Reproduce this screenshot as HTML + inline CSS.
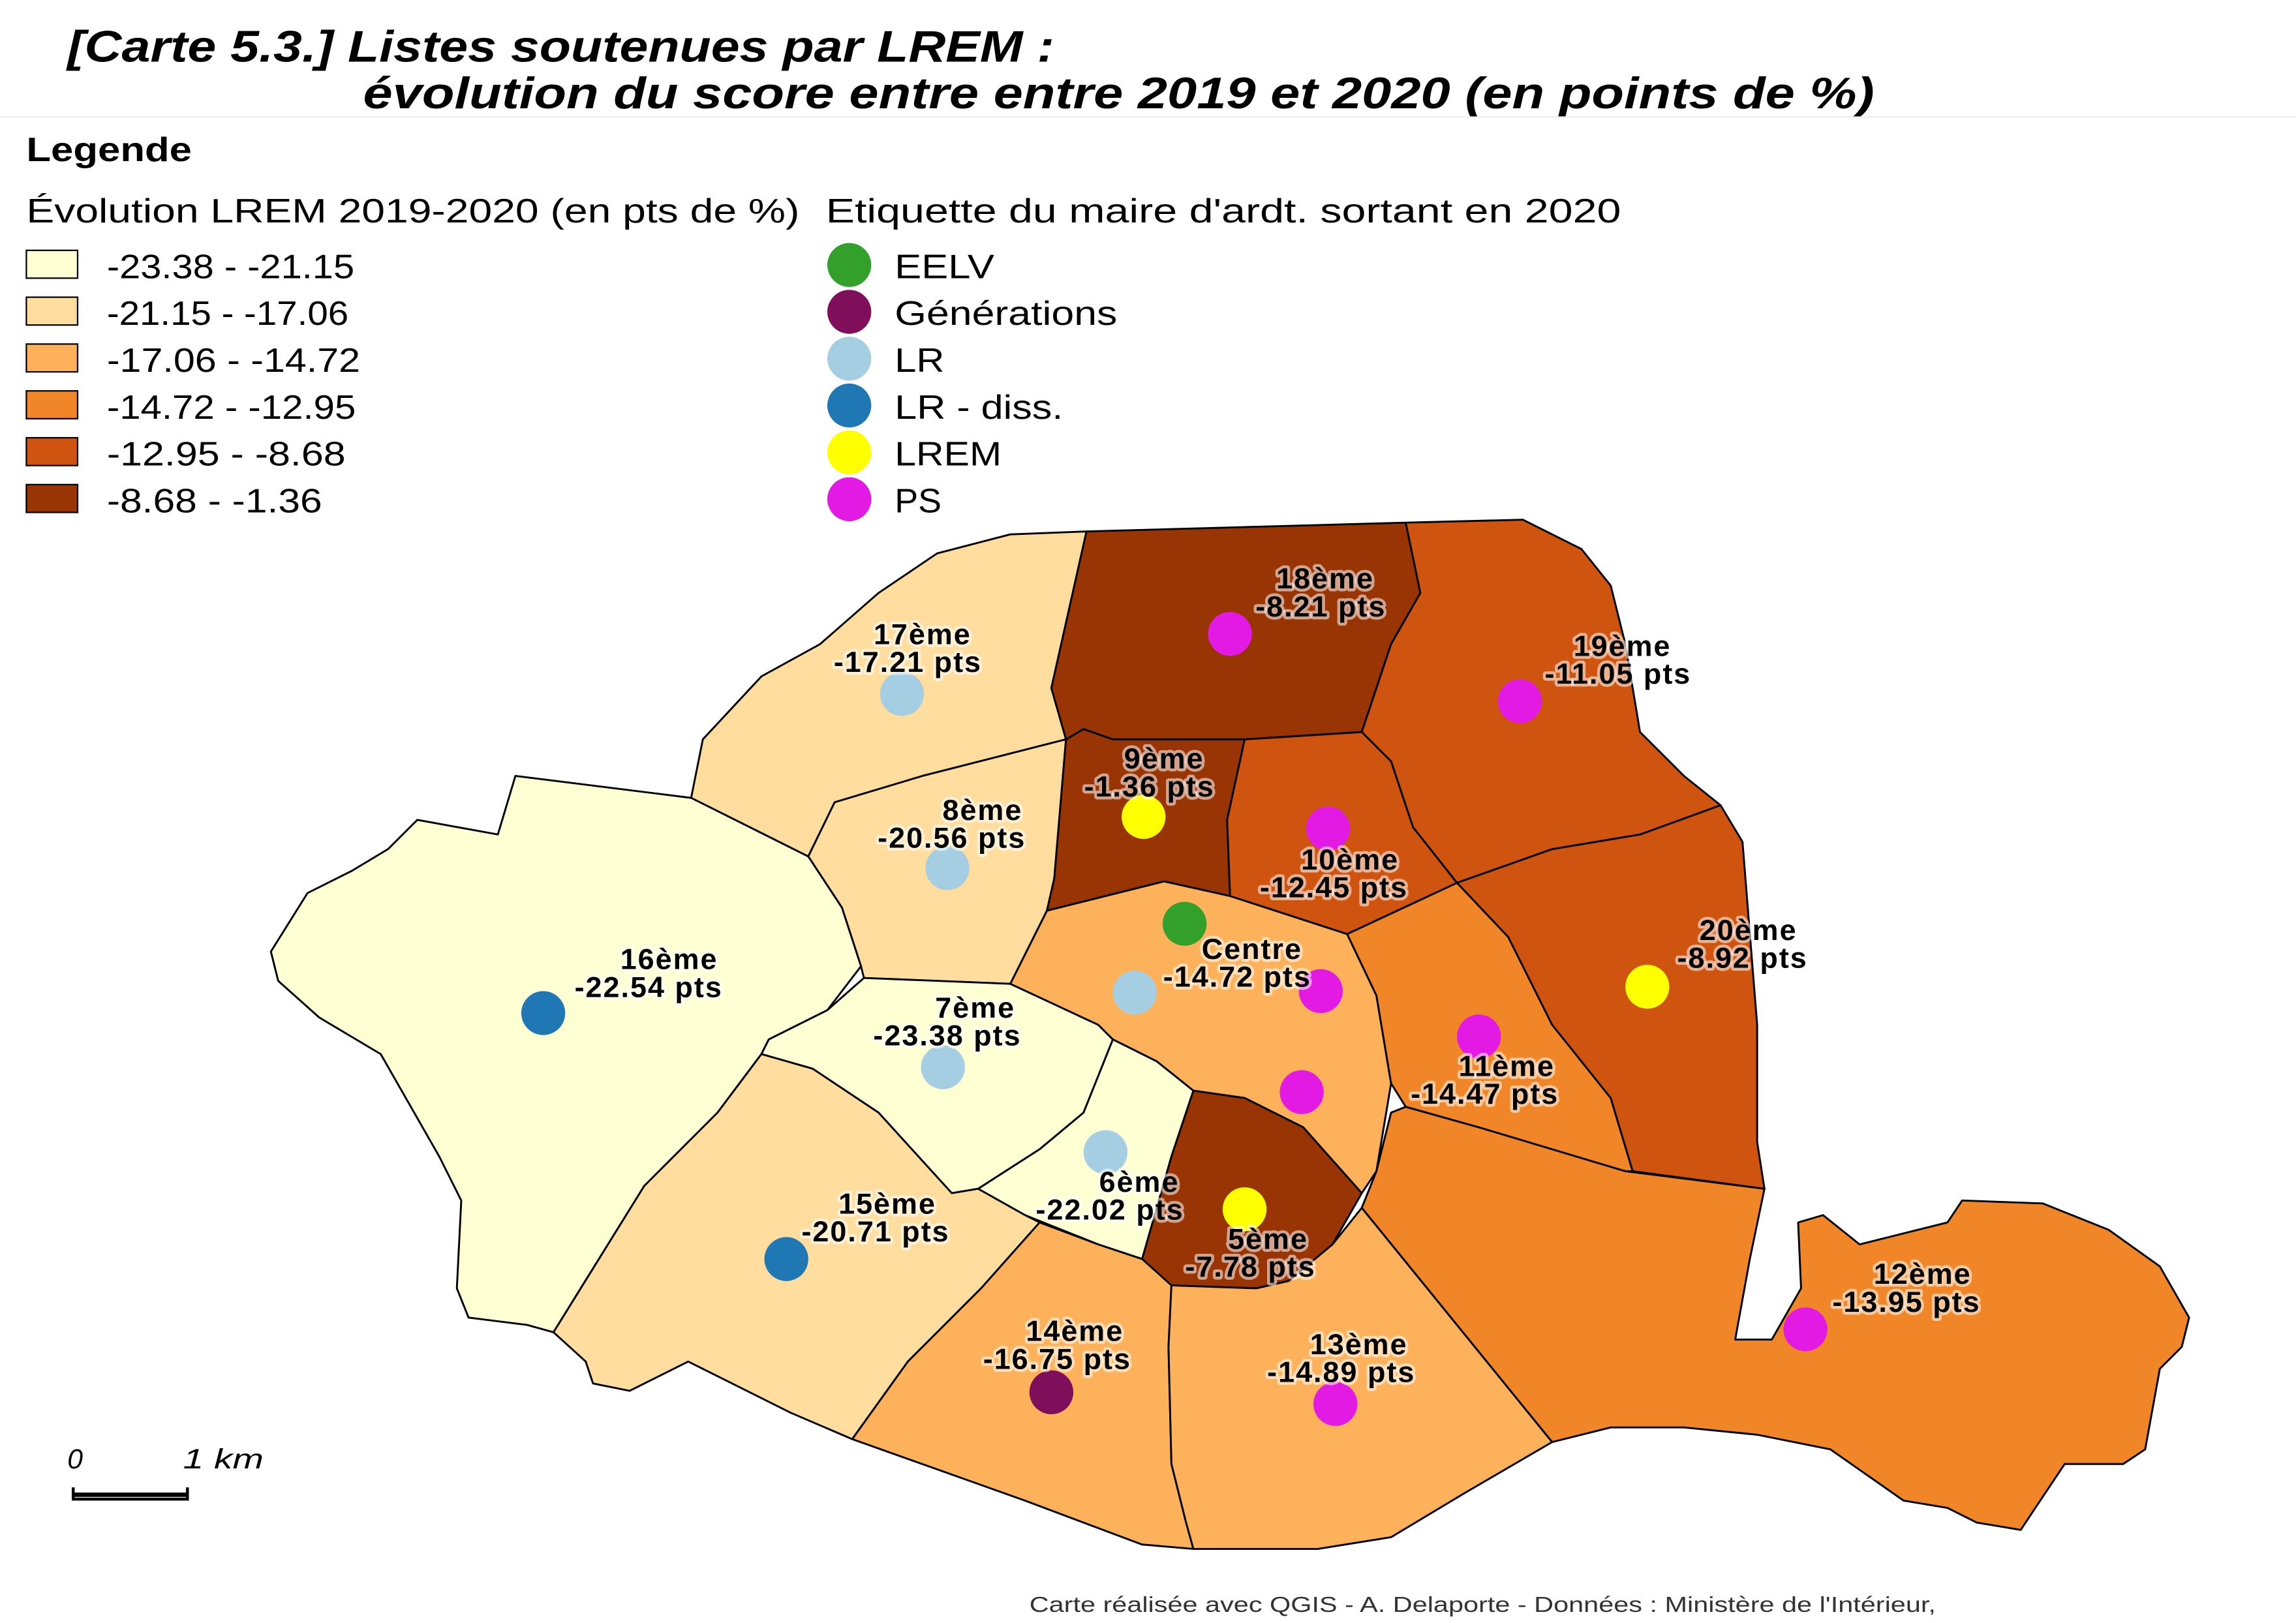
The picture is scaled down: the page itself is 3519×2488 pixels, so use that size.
<!DOCTYPE html>
<html><head><meta charset="utf-8"><style>
html,body{margin:0;padding:0;background:#fff;}
svg{display:block;}
.t{font-family:"Liberation Sans",sans-serif;}
.lab{font-family:"Liberation Sans",sans-serif;font-weight:bold;font-size:20px;letter-spacing:0.9px;fill:#000;stroke:rgba(255,255,255,0.55);stroke-width:4px;paint-order:stroke;stroke-linejoin:round;text-anchor:middle;}
.p{stroke:#000;stroke-width:1.3;stroke-linejoin:round;}
</style></head><body>
<svg width="3519" height="2488" viewBox="0 0 1568 1108.6" xmlns="http://www.w3.org/2000/svg">
<rect width="1568" height="1109" fill="#fff"/>
<text class="t" x="46" y="42" font-size="30" font-weight="bold" font-style="italic" textLength="674" lengthAdjust="spacingAndGlyphs">[Carte 5.3.] Listes soutenues par LREM :</text>
<text class="t" x="248" y="74" font-size="30" font-weight="bold" font-style="italic" textLength="1032" lengthAdjust="spacingAndGlyphs">évolution du score entre entre 2019 et 2020 (en points de %)</text>
<line x1="0" y1="80" x2="1568" y2="80" stroke="#eee" stroke-width="1"/>
<text class="t" x="18" y="110" font-size="23" font-weight="bold" textLength="113" lengthAdjust="spacingAndGlyphs">Legende</text>
<text class="t" x="18" y="152" font-size="23" textLength="528" lengthAdjust="spacingAndGlyphs">Évolution LREM 2019-2020 (en pts de %)</text>
<g class="t" font-size="23">
<rect x="18" y="171" width="35" height="19" fill="#ffffd4" stroke="#000"/><text x="73" y="190" textLength="169" lengthAdjust="spacingAndGlyphs">-23.38 - -21.15</text>
<rect x="18" y="203" width="35" height="19" fill="#fedd9f" stroke="#000"/><text x="73" y="222" textLength="165" lengthAdjust="spacingAndGlyphs">-21.15 - -17.06</text>
<rect x="18" y="235" width="35" height="19" fill="#fdb15a" stroke="#000"/><text x="73" y="254" textLength="173" lengthAdjust="spacingAndGlyphs">-17.06 - -14.72</text>
<rect x="18" y="267" width="35" height="19" fill="#f08627" stroke="#000"/><text x="73" y="286" textLength="170" lengthAdjust="spacingAndGlyphs">-14.72 - -12.95</text>
<rect x="18" y="299" width="35" height="19" fill="#cf5410" stroke="#000"/><text x="73" y="318" textLength="163" lengthAdjust="spacingAndGlyphs">-12.95 - -8.68</text>
<rect x="18" y="331" width="35" height="19" fill="#993404" stroke="#000"/><text x="73" y="350" textLength="147" lengthAdjust="spacingAndGlyphs">-8.68 - -1.36</text>
<text x="564" y="152" textLength="543" lengthAdjust="spacingAndGlyphs">Etiquette du maire d'ardt. sortant en 2020</text>
<circle cx="580" cy="181" r="15" fill="#33a02c"/><text x="611" y="190" textLength="68" lengthAdjust="spacingAndGlyphs">EELV</text>
<circle cx="580" cy="213" r="15" fill="#7f0f5a"/><text x="611" y="222" textLength="152" lengthAdjust="spacingAndGlyphs">Générations</text>
<circle cx="580" cy="245" r="15" fill="#a6cee3"/><text x="611" y="254" textLength="34" lengthAdjust="spacingAndGlyphs">LR</text>
<circle cx="580" cy="277" r="15" fill="#1f78b4"/><text x="611" y="286" textLength="115" lengthAdjust="spacingAndGlyphs">LR - diss.</text>
<circle cx="580" cy="309" r="15" fill="#ffff00"/><text x="611" y="318" textLength="73" lengthAdjust="spacingAndGlyphs">LREM</text>
<circle cx="580" cy="341" r="15" fill="#e31ae3"/><text x="611" y="350" textLength="32" lengthAdjust="spacingAndGlyphs">PS</text>
</g>
<g class="p">
<polygon fill="#fedd9f" points="742,363 690,365 640,378 600,405 560,440 520,462 480,505 472,545 552,585 570,548 630,530 728,505 718,470"/>
<polygon fill="#fedd9f" points="728,505 630,530 570,548 552,585 575,620 588,660 590,668 690,672 715,622 720,600"/>
<polygon fill="#ffffd4" points="352,530 472,545 552,585 575,620 588,660 565,690 525,710 520,720 490,760 440,810 378,910 360,905 320,900 312,880 315,820 300,790 260,720 218,695 190,670 185,650 210,610 240,595 265,580 285,560 340,570"/>
<polygon fill="#ffffd4" points="565,690 590,668 690,672 750,700 760,710 740,760 710,785 668,812 650,815 600,760 555,730 520,720 525,710"/>
<polygon fill="#fdb15a" points="690,672 715,622 795,602 840,612 920,638 940,680 950,740 940,800 930,815 890,770 850,750 815,745 790,725 760,710 750,700"/>
<polygon fill="#ffffd4" points="760,710 790,725 815,745 800,790 780,860 750,850 700,830 668,812 710,785 740,760"/>
<polygon fill="#993404" points="815,745 850,750 890,770 930,815 910,850 880,875 858,880 800,878 780,860 800,790"/>
<polygon fill="#fedd9f" points="520,720 555,730 600,760 650,815 668,812 700,830 710,835 670,880 620,930 582,983 540,965 470,930 430,950 405,945 400,930 378,910 440,810 490,760"/>
<polygon fill="#fdb15a" points="710,835 750,850 780,860 800,878 798,920 800,1000 810,1040 815,1058 780,1055 700,1025 582,983 620,930 670,880"/>
<polygon fill="#fdb15a" points="800,878 858,880 880,875 910,850 930,825 1060,985 1000,1020 950,1050 900,1058 815,1058 810,1040 800,1000 798,920"/>
<polygon fill="#f08627" points="930,825 940,800 950,760 960,756 1010,770 1110,800 1205,812 1195,860 1185,915 1210,915 1230,880 1228,835 1245,830 1270,850 1330,835 1340,820 1395,822 1440,840 1475,865 1495,900 1490,920 1475,935 1465,990 1450,1000 1410,1000 1390,1030 1380,1045 1350,1040 1330,1030 1300,1025 1250,990 1200,980 1150,975 1100,975 1060,985"/>
<polygon fill="#f08627" points="920,638 995,603 1030,640 1060,700 1100,750 1115,800 1110,800 1010,770 960,756 950,740 940,680"/>
<polygon fill="#cf5410" points="995,603 1060,580 1120,570 1175,550 1190,575 1200,700 1200,780 1205,812 1115,800 1100,750 1060,700 1030,640"/>
<polygon fill="#cf5410" points="850,505 930,500 950,520 965,565 995,603 920,638 840,612 838,560"/>
<polygon fill="#993404" points="740,498 760,505 850,505 838,560 840,612 795,602 715,622 720,600 728,505"/>
<polygon fill="#993404" points="742,363 960,357 970,405 950,440 940,470 930,500 850,505 760,505 740,498 728,505 718,470"/>
<polygon fill="#cf5410" points="960,357 1040,355 1080,375 1100,400 1110,440 1120,500 1150,530 1175,550 1120,570 1060,580 995,603 965,565 950,520 930,500 940,470 950,440 970,405"/>
</g>
<g>
<circle cx="840" cy="433" r="15" fill="#e31ae3"/>
<circle cx="1038" cy="479" r="15" fill="#e31ae3"/>
<circle cx="616" cy="474" r="15" fill="#a6cee3"/>
<circle cx="781" cy="558" r="15" fill="#ffff00"/>
<circle cx="907" cy="566" r="15" fill="#e31ae3"/>
<circle cx="647" cy="593" r="15" fill="#a6cee3"/>
<circle cx="809" cy="631" r="15" fill="#33a02c"/>
<circle cx="775" cy="678" r="15" fill="#a6cee3"/>
<circle cx="902" cy="677" r="15" fill="#e31ae3"/>
<circle cx="1125" cy="674" r="15" fill="#ffff00"/>
<circle cx="371" cy="692" r="15" fill="#1f78b4"/>
<circle cx="644" cy="729" r="15" fill="#a6cee3"/>
<circle cx="1010" cy="708" r="15" fill="#e31ae3"/>
<circle cx="889" cy="746" r="15" fill="#e31ae3"/>
<circle cx="755" cy="787" r="15" fill="#a6cee3"/>
<circle cx="850" cy="826" r="15" fill="#ffff00"/>
<circle cx="537" cy="860" r="15" fill="#1f78b4"/>
<circle cx="1233" cy="908" r="15" fill="#e31ae3"/>
<circle cx="718" cy="951" r="15" fill="#7f0f5a"/>
<circle cx="912" cy="959" r="15" fill="#e31ae3"/>
</g>
<g>
<text class="lab" x="905" y="402">18ème</text><text class="lab" x="902" y="421">-8.21 pts</text>
<text class="lab" x="1108" y="448">19ème</text><text class="lab" x="1105" y="467">-11.05 pts</text>
<text class="lab" x="630" y="440">17ème</text><text class="lab" x="620" y="459">-17.21 pts</text>
<text class="lab" x="795" y="525">9ème</text><text class="lab" x="785" y="544">-1.36 pts</text>
<text class="lab" x="671" y="560">8ème</text><text class="lab" x="650" y="579">-20.56 pts</text>
<text class="lab" x="922" y="594">10ème</text><text class="lab" x="911" y="613">-12.45 pts</text>
<text class="lab" x="855" y="655">Centre</text><text class="lab" x="845" y="674">-14.72 pts</text>
<text class="lab" x="1194" y="642">20ème</text><text class="lab" x="1190" y="661">-8.92 pts</text>
<text class="lab" x="457" y="662">16ème</text><text class="lab" x="443" y="681">-22.54 pts</text>
<text class="lab" x="666" y="695">7ème</text><text class="lab" x="647" y="714">-23.38 pts</text>
<text class="lab" x="1029" y="735">11ème</text><text class="lab" x="1014" y="754">-14.47 pts</text>
<text class="lab" x="778" y="814">6ème</text><text class="lab" x="758" y="833">-22.02 pts</text>
<text class="lab" x="606" y="829">15ème</text><text class="lab" x="598" y="848">-20.71 pts</text>
<text class="lab" x="866" y="853">5ème</text><text class="lab" x="854" y="872">-7.78 pts</text>
<text class="lab" x="1313" y="877">12ème</text><text class="lab" x="1302" y="896">-13.95 pts</text>
<text class="lab" x="734" y="916">14ème</text><text class="lab" x="722" y="935">-16.75 pts</text>
<text class="lab" x="928" y="925">13ème</text><text class="lab" x="916" y="944">-14.89 pts</text>
</g>
<text class="t" x="46" y="1003" font-size="19" font-style="italic">0</text>
<text class="t" x="125" y="1003" font-size="19" font-style="italic" textLength="55" lengthAdjust="spacingAndGlyphs">1 km</text>
<path d="M50 1016 V1024 H128 V1016" fill="none" stroke="#000" stroke-width="2"/>
<line x1="50" y1="1021" x2="128" y2="1021" stroke="#000" stroke-width="3"/>
<text class="t" x="703" y="1101" font-size="15" fill="#333" textLength="619" lengthAdjust="spacingAndGlyphs">Carte réalisée avec QGIS - A. Delaporte - Données : Ministère de l'Intérieur,</text>
</svg>
</body></html>
